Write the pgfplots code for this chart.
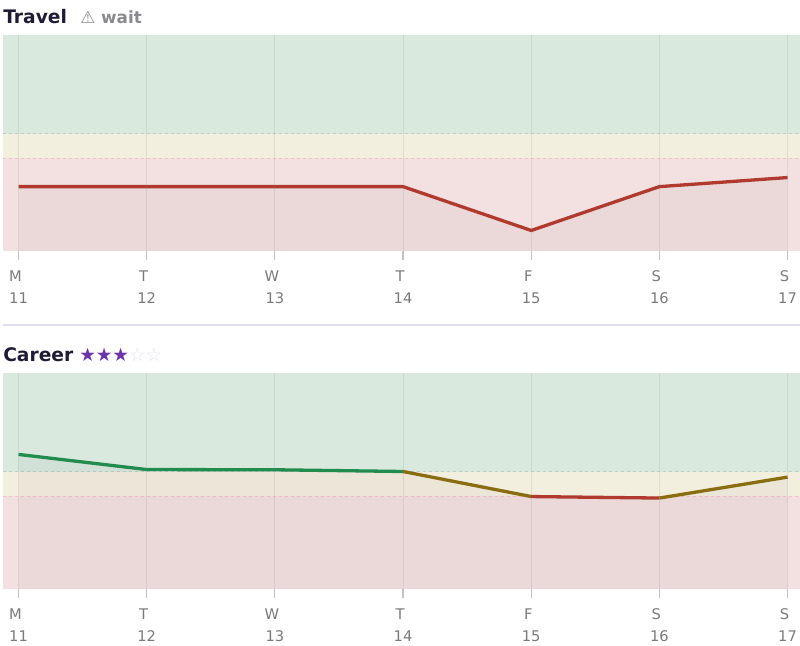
\documentclass[border=0pt]{standalone}
\usepackage{fontspec}
\usepackage{pgfplots}
\pgfplotsset{compat=1.18}
\setmainfont{DejaVu Sans}

\definecolor{bandgreen}{HTML}{D9E9DE}
\definecolor{bandyellow}{HTML}{F3EFDF}
\definecolor{bandred}{HTML}{F3E0E0}
\definecolor{linegreen}{HTML}{228B4E}
\definecolor{linebrown}{HTML}{8A6D10}
\definecolor{linered}{HTML}{B03A2E}
\definecolor{titlecol}{HTML}{1F1B33}
\definecolor{mutedcol}{HTML}{8A8A8E}
\definecolor{starcol}{HTML}{6B35A8}
\definecolor{staroff}{HTML}{E4DFF3}
\definecolor{sepcol}{HTML}{E3DFF3}
\definecolor{undercol}{HTML}{3A3550}

\newlength{\px}
\setlength{\px}{0.75pt}
\newcommand{\dl}[2]{\rule{0pt}{8.6pt}#1\kern4.5pt\\#2}

\pgfplotsset{
  panel/.style={
    anchor=south west,
    scale only axis,
    width=797\px, height=216\px,
    xmin=10.879, xmax=17.097, ymin=0, ymax=100,
    axis line style={draw=none},
    axis on top,
    xtick={11,12,13,14,15,16,17},
    xticklabels={\dl{M}{11},\dl{T}{12},\dl{W}{13},\dl{T}{14},\dl{F}{15},\dl{S}{16},\dl{S}{17}},
    x tick label style={align=center, font=\fontsize{11pt}{16.3pt}\selectfont, text=black!52, yshift=-3.5\px},
    ytick=\empty,
    xtick pos=bottom,
    xmajorgrids,
    grid style={draw=black!50, opacity=0.16, line width=1\px},
    tick align=outside,
    major tick length=11\px,
    x tick style={draw=black!24, line width=1.2\px, dash pattern=on 0pt off 2\px on 9\px off 9\px},
    clip=false,
  },
  band/.style={draw=none, forget plot},
  limit/.style={dash pattern=on 3\px off 3\px, line width=0.8\px, forget plot},
  under/.style={draw=none, fill=undercol, fill opacity=0.042, forget plot},
  val/.style={line width=3.3\px, line join=round, line cap=butt, forget plot},
}

\begin{document}
\begin{tikzpicture}[x=\px, y=\px]
\path[use as bounding box] (0,0) rectangle (800,646);

% Travel
\begin{axis}[panel, at={(3\px,395\px)}]
  \addplot[band, fill=bandred] coordinates {(10.879,0) (17.097,0) (17.097,43) (10.879,43)} --cycle;
  \addplot[band, fill=bandyellow] coordinates {(10.879,43) (17.097,43) (17.097,54) (10.879,54)} --cycle;
  \addplot[band, fill=bandgreen] coordinates {(10.879,54) (17.097,54) (17.097,100) (10.879,100)} --cycle;
  \addplot[limit, draw=black!12!bandgreen] coordinates {(10.879,54.3) (17.097,54.3)};
  \addplot[limit, draw=red!14!bandred] coordinates {(10.879,43) (17.097,43)};
  \addplot[under] coordinates {(11,0) (11,29.8) (12,29.8) (13,29.8) (14,29.8) (15,9.5) (16,29.8) (17,34) (17,0)} --cycle;
  \addplot[val, draw=linered] coordinates {(11,29.8) (12,29.8) (13,29.8) (14,29.8) (15,9.5) (16,29.8) (17,34)};
\end{axis}

% Career
\begin{axis}[panel, at={(3\px,57\px)}]
  \addplot[band, fill=bandred] coordinates {(10.879,0) (17.097,0) (17.097,43) (10.879,43)} --cycle;
  \addplot[band, fill=bandyellow] coordinates {(10.879,43) (17.097,43) (17.097,54) (10.879,54)} --cycle;
  \addplot[band, fill=bandgreen] coordinates {(10.879,54) (17.097,54) (17.097,100) (10.879,100)} --cycle;
  \addplot[limit, draw=black!12!bandgreen] coordinates {(10.879,54.3) (17.097,54.3)};
  \addplot[limit, draw=red!14!bandred] coordinates {(10.879,43) (17.097,43)};
  \addplot[under] coordinates {(11,0) (11,62.3) (12,55.3) (13,55.2) (14,54.4) (15,42.8) (16,42.1) (17,51.8) (17,0)} --cycle;
  \addplot[val, draw=linegreen] coordinates {(11,62.3) (12,55.3) (13,55.2) (14,54.4)};
  \addplot[val, draw=linebrown] coordinates {(14,54.4) (15,42.8)};
  \addplot[val, draw=linered] coordinates {(15,42.8) (16,42.1)};
  \addplot[val, draw=linebrown] coordinates {(16,42.1) (17,51.8)};
\end{axis}

% titles and separator
\node[anchor=base west, inner sep=0pt, text=titlecol, font=\fontsize{14pt}{16pt}\selectfont\bfseries] at (3,622) {Travel};
\node[anchor=base west, inner sep=0pt, text=mutedcol, font=\fontsize{12.6pt}{16pt}\selectfont\bfseries] at (80,622) {{\mdseries ⚠} wait};
\draw[sepcol, line width=2\px] (3,321) -- (800,321);
\node[anchor=base west, inner sep=0pt, text=titlecol, font=\fontsize{14pt}{16pt}\selectfont\bfseries] at (3,284) {Career};
\node[anchor=base west, inner sep=0pt, font=\fontsize{13.9pt}{16pt}\selectfont] at (79,284) {\textcolor{starcol}{★★★}\textcolor{staroff}{☆☆}};
\end{tikzpicture}
\end{document}
